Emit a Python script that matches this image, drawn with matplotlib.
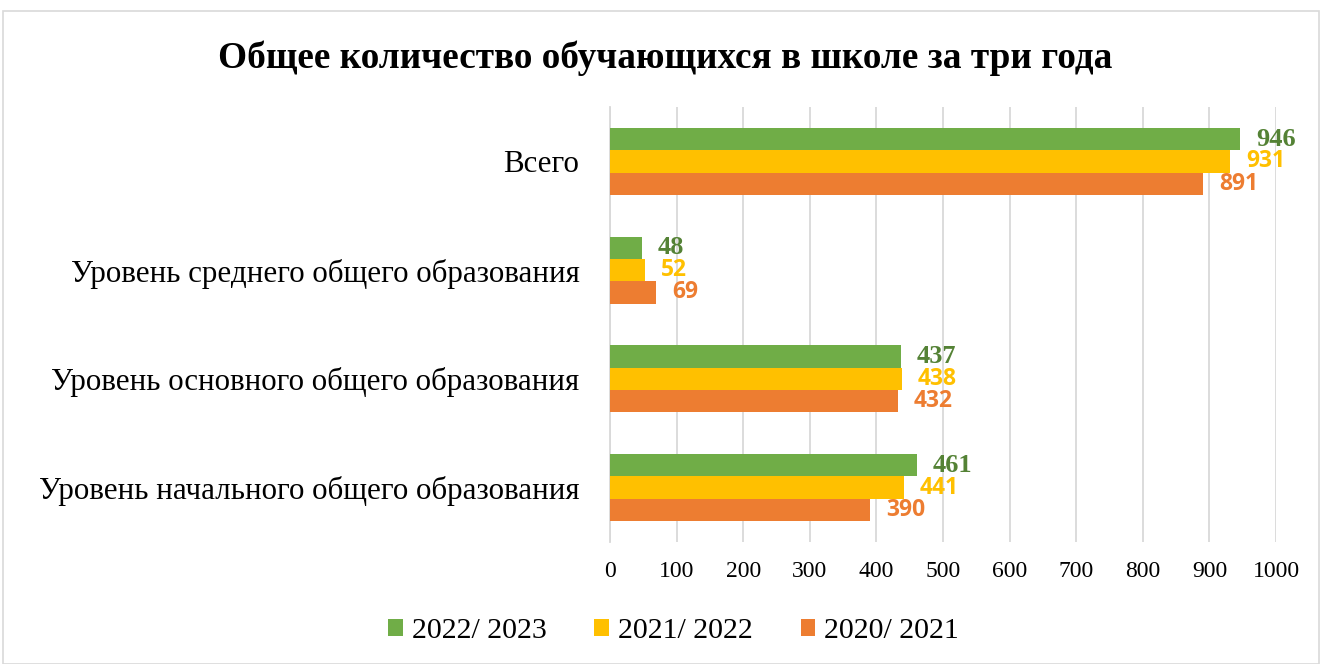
import matplotlib.pyplot as plt
import numpy as np
from matplotlib.patches import Rectangle

categories = ["Уровень начального общего образования",
              "Уровень основного общего образования",
              "Уровень среднего общего образования",
              "Всего"]
series_names = ["2022/ 2023", "2021/ 2022", "2020/ 2021"]
v_2022 = [461, 437, 48, 946]
v_2021 = [441, 438, 52, 931]
v_2020 = [390, 432, 69, 891]
x_ticks = [0, 100, 200, 300, 400, 500, 600, 700, 800, 900, 1000]

colors = ["#70AD47", "#FFC000", "#ED7D31"]
label_colors = ["#548235", "#FFC000", "#ED7D31"]
label_fonts = ["Liberation Serif", "Open Sans", "Open Sans"]

fig = plt.figure(figsize=(13.23, 6.64), dpi=100)
ax = fig.add_axes([0.4611, 0.1837, 0.5034, 0.6552])

# рамка вокруг диаграммы
fig.patches.append(Rectangle((3 / 1323, 0), 1316 / 1323, 653 / 664, transform=fig.transFigure,
                             fill=False, edgecolor="#D9D9D9", linewidth=1.2))

y = np.arange(len(categories))
h = 0.205
offsets = [h, 0, -h]
data = [v_2022, v_2021, v_2020]
label_sizes = [19, 16.5, 16.5]

for i in range(3):
    bars = ax.barh(y + offsets[i], data[i], height=h, color=colors[i], label=series_names[i], zorder=3)
    for b, v in zip(bars, data[i]):
        ax.text(v + 24, b.get_y() + b.get_height() / 2, str(v), va="center", ha="left",
                fontsize=label_sizes[i], fontweight="bold", color=label_colors[i], family=label_fonts[i])

ax.set_xlim(0, 1000)
ax.set_ylim(-0.5, 3.5)
ax.set_xticks(x_ticks)
ax.set_xticklabels([str(t) for t in x_ticks], family="Liberation Serif", fontsize=17)
ax.set_yticks(y)
ax.set_yticklabels(categories, family="Liberation Serif", fontsize=22.3)
ax.tick_params(axis="y", length=0, pad=22)
ax.tick_params(axis="x", length=0, pad=14)
ax.grid(axis="x", color="#D9D9D9", linewidth=1.3, zorder=0)
for s in ["top", "right", "bottom"]:
    ax.spines[s].set_visible(False)
ax.spines["left"].set_color("#D9D9D9")
ax.spines["left"].set_linewidth(1.3)

fig.text(0.503, 0.913, "Общее количество обучающихся в школе за три года", ha="center", va="center",
         family="Liberation Serif", fontweight="bold", fontsize=26.8)

fig.legend(loc="center", bbox_to_anchor=(0.509, 0.05), ncol=3, frameon=False,
           prop={"family": "Liberation Serif", "size": 21.5}, handlelength=0.5, handleheight=0.5,
           handletextpad=0.3, columnspacing=1.6)

fig.savefig("out.png", dpi=100)
